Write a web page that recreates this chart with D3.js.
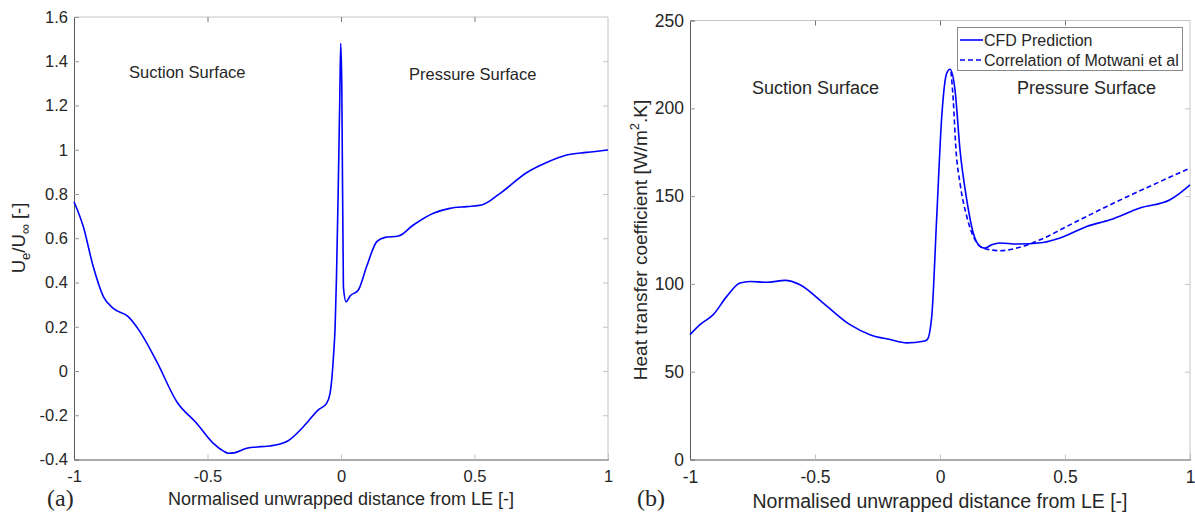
<!DOCTYPE html>
<html>
<head>
<meta charset="utf-8">
<script src="https://cdn.jsdelivr.net/npm/d3@7"></script>
<style>
  html, body { margin: 0; padding: 0; background: #fff; }
  svg { display: block; }
  text { font-family: "Liberation Sans", Arial, sans-serif; fill: #262626; }
</style>
</head>
<body>
<svg id="fig" width="1195" height="515"></svg>
<script>
// (a) edge velocity ratio along the unwrapped blade surface
const velX = [-1.000, -0.965, -0.928, -0.890, -0.853, -0.797, -0.753, -0.690, -0.615, -0.540,
  -0.478, -0.440, -0.422, -0.400, -0.353, -0.300, -0.266, -0.203, -0.141, -0.085,
  -0.054, -0.041, -0.034, -0.028, -0.022, -0.017, -0.011, -0.005, -0.001, 0.003,
  0.009, 0.019, 0.034, 0.065, 0.096, 0.134, 0.165, 0.215, 0.271, 0.346,
  0.408, 0.471, 0.527, 0.596, 0.695, 0.770, 0.845, 0.920, 1.000];
const velY = [0.765, 0.652, 0.472, 0.336, 0.283, 0.246, 0.178, 0.042, -0.139, -0.237,
  -0.327, -0.362, -0.372, -0.370, -0.349, -0.342, -0.339, -0.319, -0.252, -0.176,
  -0.146, -0.101, -0.030, 0.070, 0.200, 0.420, 0.780, 1.200, 1.481, 1.290,
  0.380, 0.313, 0.339, 0.366, 0.472, 0.585, 0.604, 0.610, 0.660, 0.713,
  0.735, 0.743, 0.750, 0.803, 0.896, 0.942, 0.976, 0.988, 0.999];

// (b) heat transfer coefficient, CFD
const cfdX = [-1.000, -0.960, -0.907, -0.853, -0.800, -0.760, -0.693, -0.620, -0.560, -0.467,
  -0.360, -0.280, -0.200, -0.133, -0.067, -0.051, -0.033, -0.013, 0.007, 0.027,
  0.040, 0.060, 0.080, 0.107, 0.133, 0.160, 0.180, 0.207, 0.240, 0.307,
  0.413, 0.480, 0.587, 0.680, 0.800, 0.920, 0.960, 1.000];
const cfdY = [71.1, 76.8, 82.5, 92.9, 100.5, 101.4, 100.9, 102.0, 99.5, 89.1,
  76.8, 71.1, 68.3, 66.4, 67.3, 68.3, 81.5, 138.4, 195.3, 220.0,
  222.2, 210.5, 176.3, 147.9, 129.0, 121.4, 120.4, 122.3, 123.3, 122.7,
  123.6, 126.1, 132.7, 136.5, 143.2, 147.9, 151.7, 156.4];

// (b) correlation of Motwani et al, pressure side
const corX = [0.044, 0.053, 0.064, 0.080, 0.107, 0.140, 0.173, 0.240, 0.307, 0.400,
  0.533, 0.667, 0.867, 1.000];
const corY = [220.9, 204.8, 176.3, 157.4, 138.4, 125.1, 120.4, 118.9, 120.4, 125.1,
  134.6, 144.1, 157.4, 165.9];

const xTicks = [-1, -0.5, 0, 0.5, 1];
const velTicks = [-0.4, -0.2, 0, 0.2, 0.4, 0.6, 0.8, 1, 1.2, 1.4, 1.6];
const htcTicks = [0, 50, 100, 150, 200, 250];
const xLabel = "Normalised unwrapped distance from LE [-]";
const legendNames = ["CFD Prediction", "Correlation of Motwani et al"];

const svg = d3.select("#fig");
const blue = "#0000ff";
const fmt = d => String(d);

function panel(o) {
  const g = svg.append("g");
  const x = d3.scaleLinear().domain([-1, 1]).range([o.left, o.right]);
  const y = d3.scaleLinear().domain(o.yDomain).range([o.bottom, o.top]);

  // light box edges with mirrored ticks
  const light = "#c4c4c4", dark = "#5a5a5a", tick = 5;
  g.append("line").attr("x1", o.left).attr("x2", o.right).attr("y1", o.top).attr("y2", o.top)
    .attr("stroke", light);
  g.append("line").attr("x1", o.right).attr("x2", o.right).attr("y1", o.top).attr("y2", o.bottom)
    .attr("stroke", light);

  const xa = g.append("g").attr("transform", `translate(0,${o.bottom})`)
    .call(d3.axisBottom(x).tickValues(xTicks).tickFormat(fmt).tickSize(-tick).tickPadding(11));
  xa.select(".domain").attr("stroke", dark);
  xa.selectAll(".tick line").attr("stroke", light);
  xa.selectAll(".tick text").attr("font-size", o.tickSize).attr("fill", "#262626")
    .attr("font-family", "Liberation Sans, Arial, sans-serif");

  const xt = g.append("g").attr("transform", `translate(0,${o.top})`)
    .call(d3.axisTop(x).tickValues(xTicks.slice(1, -1)).tickSize(-tick).tickFormat(""));
  xt.select(".domain").remove();
  xt.selectAll(".tick line").attr("stroke", "#777");

  const ya = g.append("g").attr("transform", `translate(${o.left},0)`)
    .call(d3.axisLeft(y).tickValues(o.yTicks).tickFormat(fmt).tickSize(-tick).tickPadding(6));
  ya.select(".domain").attr("stroke", dark);
  ya.selectAll(".tick line").attr("stroke", "#999");
  ya.selectAll(".tick text").attr("font-size", o.tickSize).attr("fill", "#262626")
    .attr("font-family", "Liberation Sans, Arial, sans-serif");

  const yr = g.append("g").attr("transform", `translate(${o.right},0)`)
    .call(d3.axisRight(y).tickValues(o.yTicks.slice(1, -1)).tickSize(-tick).tickFormat(""));
  yr.select(".domain").remove();
  yr.selectAll(".tick line").attr("stroke", light);

  // x axis title
  g.append("text").attr("x", (o.left + o.right) / 2).attr("y", o.xLabelY)
    .attr("text-anchor", "middle").attr("font-size", o.labelSize).text(xLabel);

  return { g, x, y };
}

// ---------- panel (a) ----------
const A = panel({ left: 74, right: 608, top: 17, bottom: 459.5, yDomain: [-0.4, 1.6],
  yTicks: velTicks, tickSize: 16.5, labelSize: 18, xLabelY: 505 });

A.g.append("path")
  .datum(velX.map((v, i) => [v, velY[i]]))
  .attr("fill", "none").attr("stroke", blue).attr("stroke-width", 1.6)
  .attr("d", d3.line().x(d => A.x(d[0])).y(d => A.y(d[1])).curve(d3.curveMonotoneX));

const ya = A.g.append("text").attr("transform", "translate(25,238) rotate(-90)")
  .attr("text-anchor", "middle").attr("font-size", 18.5);
ya.append("tspan").text("U");
ya.append("tspan").attr("font-size", 13).attr("dy", 5).text("e");
ya.append("tspan").attr("dy", -5).text("/U");
ya.append("tspan").attr("font-size", 14).attr("dy", 5).text("\u221E");
ya.append("tspan").attr("dy", -5).text(" [-]");

A.g.append("text").attr("x", 129).attr("y", 78).attr("font-size", 16.5).text("Suction Surface");
A.g.append("text").attr("x", 409).attr("y", 80).attr("font-size", 16.5).text("Pressure Surface");
A.g.append("text").attr("x", 47).attr("y", 506).attr("font-size", 24)
  .style("font-family", "'Liberation Serif', 'Times New Roman', serif").attr("fill", "#000").text("(a)");

// ---------- panel (b) ----------
const B = panel({ left: 690, right: 1190, top: 20.5, bottom: 459.5, yDomain: [0, 250],
  yTicks: htcTicks, tickSize: 17.5, labelSize: 19.5, xLabelY: 508 });

const lineB = d3.line().x(d => B.x(d[0])).y(d => B.y(d[1])).curve(d3.curveMonotoneX);
B.g.append("path")
  .datum(corX.map((v, i) => [v, corY[i]]))
  .attr("fill", "none").attr("stroke", blue).attr("stroke-width", 1.6)
  .attr("stroke-dasharray", "5,3").attr("d", lineB);
B.g.append("path")
  .datum(cfdX.map((v, i) => [v, cfdY[i]]))
  .attr("fill", "none").attr("stroke", blue).attr("stroke-width", 1.6).attr("d", lineB);

const yb = B.g.append("text").attr("transform", "translate(647,240) rotate(-90)")
  .attr("text-anchor", "middle").attr("font-size", 19);
yb.append("tspan").text("Heat transfer coefficient [W/m");
yb.append("tspan").attr("font-size", 13).attr("dy", -8).text("2");
yb.append("tspan").attr("dy", 8).text(".K]");

B.g.append("text").attr("x", 752).attr("y", 94).attr("font-size", 18).text("Suction Surface");
B.g.append("text").attr("x", 1017).attr("y", 94).attr("font-size", 18).text("Pressure Surface");
B.g.append("text").attr("x", 637).attr("y", 506).attr("font-size", 24)
  .style("font-family", "'Liberation Serif', 'Times New Roman', serif").attr("fill", "#000").text("(b)");

// legend
const leg = B.g.append("g");
leg.append("rect").attr("x", 957.5).attr("y", 27.5).attr("width", 225).attr("height", 43)
  .attr("fill", "#fff").attr("stroke", "#888").attr("stroke-width", 1);
legendNames.forEach((name, i) => {
  const cy = 40 + i * 20;
  leg.append("line").attr("x1", 960).attr("x2", 983).attr("y1", cy).attr("y2", cy)
    .attr("stroke", blue).attr("stroke-width", 1.6)
    .attr("stroke-dasharray", i === 1 ? "5,3" : null);
  leg.append("text").attr("x", 984).attr("y", cy + 5.5).attr("font-size", 16).text(name);
});
</script>
</body>
</html>
